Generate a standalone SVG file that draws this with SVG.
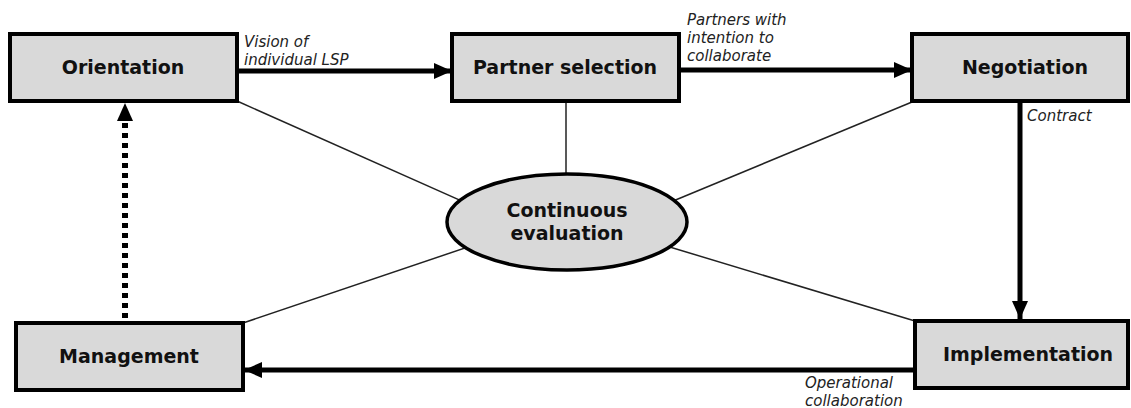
<svg xmlns="http://www.w3.org/2000/svg" width="1131" height="408" viewBox="0 0 1131 408">
<style>
.box{fill:#d9d9d9;stroke:#000;stroke-width:4}
.lbl{font-family:"DejaVu Sans",Verdana,sans-serif;font-weight:bold;font-size:19px;fill:#111;text-anchor:middle}
.it{font-family:"DejaVu Sans",Verdana,sans-serif;font-style:italic;font-size:15px;fill:#222}
.thin{stroke:#222;stroke-width:1.5;fill:none}
.thick{stroke:#000;stroke-width:5;fill:none}
</style>
<defs>
<marker id="ah" markerUnits="userSpaceOnUse" markerWidth="20" markerHeight="18" refX="18" refY="8" orient="auto">
<path d="M0,0 L18,8 L0,16 Z" fill="#000"/>
</marker>
</defs>
<rect width="1131" height="408" fill="#fff"/>
<g id="connectors">
<line class="thin" x1="237" y1="101" x2="520" y2="227"/>
<line class="thin" x1="566" y1="102" x2="566" y2="200"/>
<line class="thin" x1="912" y1="102" x2="620" y2="223"/>
<line class="thin" x1="243" y1="323" x2="530" y2="226"/>
<line class="thin" x1="915" y1="321" x2="610" y2="229"/>
<line class="thick" x1="237" y1="71" x2="452" y2="71" marker-end="url(#ah)"/>
<line class="thick" x1="679" y1="70" x2="912" y2="70" marker-end="url(#ah)"/>
<line class="thick" x1="1020" y1="102" x2="1020" y2="319" marker-end="url(#ah)"/>
<line class="thick" x1="915" y1="370" x2="244" y2="370" marker-end="url(#ah)"/>
<line x1="125" y1="318" x2="125" y2="122" stroke="#000" stroke-width="6" stroke-dasharray="5 5"/>
<path d="M117,121 L125,103 L133,121 Z" fill="#000"/>
<text class="it" x="244" y="47">Vision of</text>
<text class="it" x="244" y="65">individual LSP</text>
<text class="it" x="687" y="25">Partners with</text>
<text class="it" x="687" y="43">intention to</text>
<text class="it" x="687" y="61">collaborate</text>
<text class="it" x="1027" y="121">Contract</text>
<text class="it" x="805" y="388">Operational</text>
<text class="it" x="805" y="406">collaboration</text>
</g>
<g id="orientation">
<rect class="box" x="10" y="34" width="227" height="67"/>
<text class="lbl" x="123" y="74">Orientation</text>
</g>
<g id="partner-selection">
<rect class="box" x="452" y="34" width="227" height="67"/>
<text class="lbl" x="565" y="74">Partner selection</text>
</g>
<g id="negotiation">
<rect class="box" x="912" y="34" width="216" height="67"/>
<text class="lbl" x="1025" y="74">Negotiation</text>
</g>
<g id="continuous-evaluation">
<ellipse cx="567" cy="222" rx="120" ry="48" fill="#d9d9d9" stroke="#000" stroke-width="3.5"/>
<text class="lbl" x="567" y="217">Continuous</text>
<text class="lbl" x="567" y="240">evaluation</text>
</g>
<g id="management">
<rect class="box" x="16" y="323" width="227" height="67"/>
<text class="lbl" x="129" y="363">Management</text>
</g>
<g id="implementation">
<rect class="box" x="915" y="321" width="213" height="67"/>
<text class="lbl" x="1028" y="361">Implementation</text>
</g>
</svg>
